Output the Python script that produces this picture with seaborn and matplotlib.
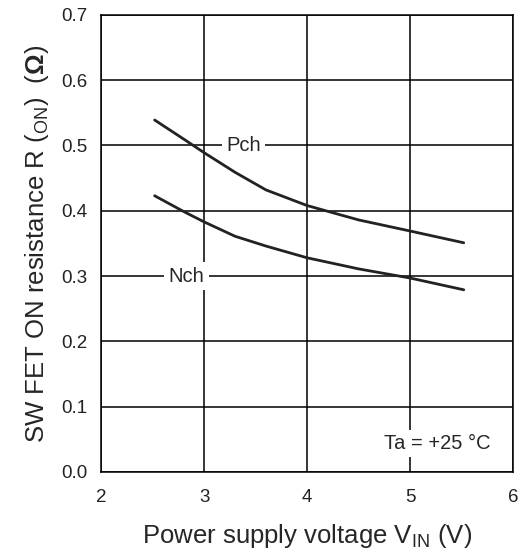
import pandas as pd
import numpy as np
import matplotlib
matplotlib.use("Agg")
import matplotlib.pyplot as plt
import seaborn as sns

# values
vin = [2.52, 2.8, 3.0, 3.3, 3.6, 4.0, 4.5, 5.0, 5.52]
r_pch = [0.539, 0.510, 0.489, 0.459, 0.432, 0.408, 0.386, 0.369, 0.351]
r_nch = [0.423, 0.399, 0.383, 0.361, 0.346, 0.328, 0.311, 0.297, 0.279]

df = pd.concat([
    pd.DataFrame({"vin": vin, "r": r_pch, "ch": "Pch"}),
    pd.DataFrame({"vin": vin, "r": r_nch, "ch": "Nch"}),
])

sns.set_style("white")
plt.rcParams['font.family'] = ['Liberation Sans', 'DejaVu Sans']
plt.rcParams['mathtext.fontset'] = 'custom'
plt.rcParams['mathtext.rm'] = 'Liberation Sans'
plt.rcParams['mathtext.bf'] = 'Liberation Sans:bold'

fig = plt.figure(figsize=(5.21, 5.52), dpi=100)
ax = fig.add_axes([0.194, 0.145, 0.791, 0.828])

sns.lineplot(data=df, x="vin", y="r", units="ch", estimator=None,
             color="#222222", linewidth=2, ax=ax, legend=False, zorder=3)

ax.set_xlim(2, 6)
ax.set_ylim(0, 0.7)
ax.set_xticks([2, 3, 4, 5, 6])
ax.set_yticks(np.arange(0, 0.71, 0.1))
ax.set_yticklabels(["%.1f" % v for v in np.arange(0, 0.71, 0.1)])
ax.grid(True, color="black", linewidth=1.1)
ax.tick_params(length=0, labelsize=13.5, colors="#222222")
ax.tick_params(axis="x", pad=12)
ax.tick_params(axis="y", pad=10)
for s in ax.spines.values():
    s.set_color("black")
    s.set_linewidth(1.1)

ax.set_xlabel(r"Power supply voltage V$_{\mathregular{IN}}$ (V)", fontsize=18.5, labelpad=12)
ax.set_ylabel(r"SW FET ON resistance R ($_{\mathregular{ON}}$)  ($\mathbf{\Omega}$)", fontsize=18.5, labelpad=7)

box = dict(facecolor="white", edgecolor="none", pad=3)
ax.text(3.38, 0.5, "Pch", fontsize=14.5, ha="center", va="center", bbox=box, zorder=4)
ax.text(2.83, 0.3, "Nch", fontsize=14.5, ha="center", va="center", bbox=box, zorder=4)
ax.text(5.26, 0.044, "Ta = +25 °C", fontsize=14.5, ha="center", va="center", bbox=box, zorder=4)

fig.savefig("out.png", dpi=100)
